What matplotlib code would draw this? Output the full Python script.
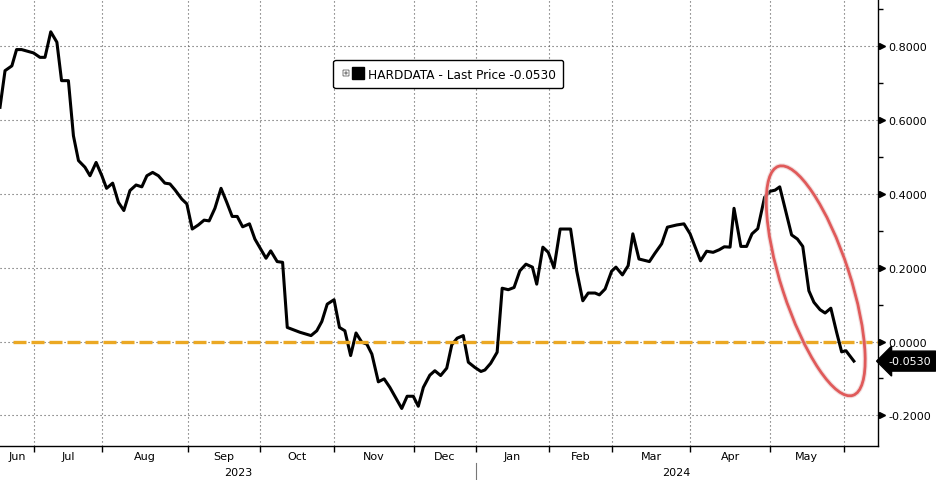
import matplotlib
matplotlib.use("Agg")
import matplotlib.pyplot as plt
import matplotlib.transforms as mtransforms
from matplotlib.lines import Line2D
from matplotlib.legend_handler import HandlerTuple
from matplotlib.patches import Ellipse
from matplotlib.ticker import FuncFormatter

# ---------------- data ----------------
# observation position (trading-day index from chart start) and index value
day_index = [
    0.0, 1.4, 3.3, 4.6, 6.0, 9.3, 11.1, 12.5, 14.1, 15.8,
    17.1, 19.0, 20.4, 21.8, 23.6, 25.0, 26.7, 28.3, 29.6, 31.3,
    32.9, 34.4, 36.1, 37.8, 39.4, 40.8, 42.4, 44.0, 45.8, 47.2,
    48.6, 50.5, 51.9, 53.4, 55.1, 56.7, 58.1, 59.7, 61.4, 63.0,
    64.5, 65.9, 67.4, 69.3, 70.8, 72.7, 73.9, 75.2, 77.0, 78.5,
    79.8, 83.3, 86.4, 88.0, 89.4, 90.9, 92.8, 94.3, 95.8, 97.4,
    98.9, 100.5, 101.9, 103.3, 105.1, 106.7, 108.3, 111.6, 113.1, 114.8,
    116.2, 117.6, 119.4, 120.8, 122.4, 124.1, 125.5, 127.0, 128.7, 130.1,
    131.9, 133.6, 134.7, 136.3, 138.1, 139.5, 141.2, 142.8, 144.4, 146.1,
    147.9, 149.1, 150.8, 152.3, 153.9, 155.6, 158.5, 160.2, 161.9, 163.4,
    165.3, 166.5, 168.1, 169.9, 171.1, 172.9, 174.5, 175.8, 177.5, 180.4,
    181.9, 183.8, 185.4, 188.0, 190.0, 191.7, 194.6, 196.3, 198.1, 199.8,
    201.2, 202.8, 203.9, 205.8, 207.4, 208.9, 210.5, 212.4, 213.9, 215.3,
    216.6, 219.9, 221.5, 223.0, 224.7, 226.1, 227.8, 229.2, 230.8, 232.4,
    233.8, 235.0, 237.2,
]
hard_data = [
    0.633, 0.732, 0.745, 0.789, 0.789, 0.780, 0.768, 0.768, 0.837, 0.809,
    0.705, 0.705, 0.556, 0.489, 0.471, 0.448, 0.484, 0.448, 0.414, 0.428,
    0.376, 0.354, 0.408, 0.423, 0.418, 0.448, 0.457, 0.448, 0.428, 0.426,
    0.410, 0.385, 0.372, 0.304, 0.315, 0.328, 0.326, 0.360, 0.414, 0.376,
    0.338, 0.338, 0.310, 0.318, 0.277, 0.245, 0.225, 0.245, 0.216, 0.214,
    0.038, 0.025, 0.016, 0.029, 0.054, 0.101, 0.113, 0.038, 0.029, -0.038,
    0.023, -0.002, -0.007, -0.034, -0.109, -0.101, -0.124, -0.181, -0.148, -0.148,
    -0.175, -0.124, -0.091, -0.079, -0.092, -0.072, -0.009, 0.009, 0.016, -0.056,
    -0.070, -0.081, -0.077, -0.059, -0.029, 0.144, 0.140, 0.146, 0.191, 0.209,
    0.201, 0.155, 0.255, 0.241, 0.199, 0.304, 0.304, 0.191, 0.110, 0.131,
    0.131, 0.126, 0.142, 0.190, 0.201, 0.180, 0.205, 0.291, 0.223, 0.216,
    0.238, 0.264, 0.309, 0.315, 0.318, 0.291, 0.218, 0.244, 0.241, 0.248,
    0.256, 0.255, 0.360, 0.257, 0.257, 0.291, 0.305, 0.390, 0.406, 0.409,
    0.418, 0.288, 0.277, 0.257, 0.137, 0.106, 0.086, 0.077, 0.090, 0.025,
    -0.028, -0.025, -0.053,
]
series_name = "HARDDATA - Last Price"
last_price = -0.0530

month_starts = [9.5, 28.4, 52.1, 72.3, 92.9, 114.9, 132.1, 152.6, 169.9, 191.8, 213.8, 234.4]
month_labels = ["Jun", "Jul", "Aug", "Sep", "Oct", "Nov", "Dec", "Jan", "Feb", "Mar", "Apr", "May"]
year_labels = ["2023", "2024"]
year_break = 132.1

x_range = (0.0, 243.9)
y_range = (-0.2832, 0.9257)
y_major = [-0.2, 0.0, 0.2, 0.4, 0.6, 0.8]
y_minor = [-0.1, 0.1, 0.3, 0.5, 0.7, 0.9]

zero_level = 0.0
zero_line_start = 3.6
highlight_center = (226.6, 0.164)

# ---------------- figure ----------------
DPI = 100
fig = plt.figure(figsize=(9.36, 4.81), dpi=DPI)
fig.patch.set_facecolor("white")
ax = fig.add_axes([0.0, 0.0701, 878 / 936, 0.9299])
ax.set_facecolor("white")

ax.plot(day_index, hard_data, color="black", lw=2.2, zorder=2)
ax.plot([zero_line_start, x_range[1]], [zero_level, zero_level], color="#EBA823",
        lw=2.4, dashes=(3.9, 1.5), dash_capstyle="butt", zorder=3)

ax.set_xlim(*x_range)
ax.set_ylim(*y_range)

# spines
for s in ("left", "top"):
    ax.spines[s].set_visible(False)
for s in ("right", "bottom"):
    ax.spines[s].set_color("black")
    ax.spines[s].set_linewidth(1.0)

# y axis on the right
ax.yaxis.tick_right()
ax.set_yticks(y_major)
ax.set_yticks(y_minor, minor=True)
ax.yaxis.set_major_formatter(FuncFormatter(lambda v, p: f"{v:.4f}"))
ax.tick_params(axis="y", which="major", length=0, pad=7.5, labelsize=8, colors="black")
ax.tick_params(axis="y", which="minor", length=3.5, width=1, direction="out", colors="black")
tri_trans = mtransforms.blended_transform_factory(ax.transAxes, ax.transData) + \
    mtransforms.ScaledTranslation(3.5 / DPI, 0, fig.dpi_scale_trans)
ax.plot([1.0] * len(y_major), y_major, ls="None", marker=">", ms=5, color="black",
        transform=tri_trans, clip_on=False, zorder=5)

# x axis: month boundaries as major ticks, month names centred
edges = [x_range[0]] + month_starts
mids = [(edges[i] + edges[i + 1]) / 2 for i in range(len(month_labels))]
ax.set_xticks(month_starts)
ax.set_xticklabels([""] * len(month_starts))
ax.set_xticks(mids, minor=True)
ax.set_xticklabels(month_labels, minor=True)
ax.tick_params(axis="x", which="major", length=4, width=1, direction="out", colors="black")
ax.tick_params(axis="x", which="minor", length=0, pad=3.5, labelsize=8)

# grid
ax.grid(True, which="major", linestyle=(0, (1, 2.6)), color="#555555", lw=0.8)
ax.set_axisbelow(True)

# year labels and separator
xb = mtransforms.blended_transform_factory(ax.transData, ax.transAxes)
year_mids = [(x_range[0] + year_break) / 2, (year_break + x_range[1]) / 2]
for xm, lab in zip(year_mids, year_labels):
    ax.text(xm, -0.0575, lab, transform=xb, ha="center", va="center", fontsize=8)
ax.add_line(Line2D([year_break, year_break], [-0.037, -0.08], transform=xb,
                   color="#777777", lw=0.8, clip_on=False))

# legend
handle = (Line2D([], [], ls="None", marker="$\\boxplus$", color="#666666", ms=5, mew=0.3),
          Line2D([], [], ls="None", marker="s", color="black", ms=8.5))
leg = ax.legend([handle], [f"{series_name} {last_price:.4f}"],
                handler_map={tuple: HandlerTuple(ndivide=None, pad=0.2)},
                loc="center", bbox_to_anchor=(0.5106, 0.8323), fontsize=8.7,
                frameon=True, fancybox=True, edgecolor="black", framealpha=1,
                handlelength=1.8, handletextpad=0.4, borderpad=0.65)
leg.get_frame().set_linewidth(1.0)

# last price tag
tag_trans = mtransforms.blended_transform_factory(ax.transAxes, ax.transData) + \
    mtransforms.ScaledTranslation(10 / DPI, 0, fig.dpi_scale_trans)
ax.text(1.0, last_price, f"{last_price:.4f}", transform=tag_trans, ha="left", va="center",
        color="white", fontsize=8, clip_on=False, zorder=6,
        bbox=dict(boxstyle="larrow,pad=0.45", fc="black", ec="black"))

# highlight ellipse
cx, cy = highlight_center
e_trans = fig.dpi_scale_trans + mtransforms.ScaledTranslation(cx, cy, ax.transData)
ax.add_artist(Ellipse((0, 0), 2.408, 0.685, angle=-72, fill=False, ec="#E8C8C8",
                      lw=3.6, alpha=0.6, transform=e_trans, clip_on=False, zorder=6))
ax.add_artist(Ellipse((0, 0), 2.408, 0.685, angle=-72, fill=False, ec="#E05A5A",
                      lw=2.0, transform=e_trans, clip_on=False, zorder=7))

fig.savefig("out.png", dpi=DPI, facecolor="white")
